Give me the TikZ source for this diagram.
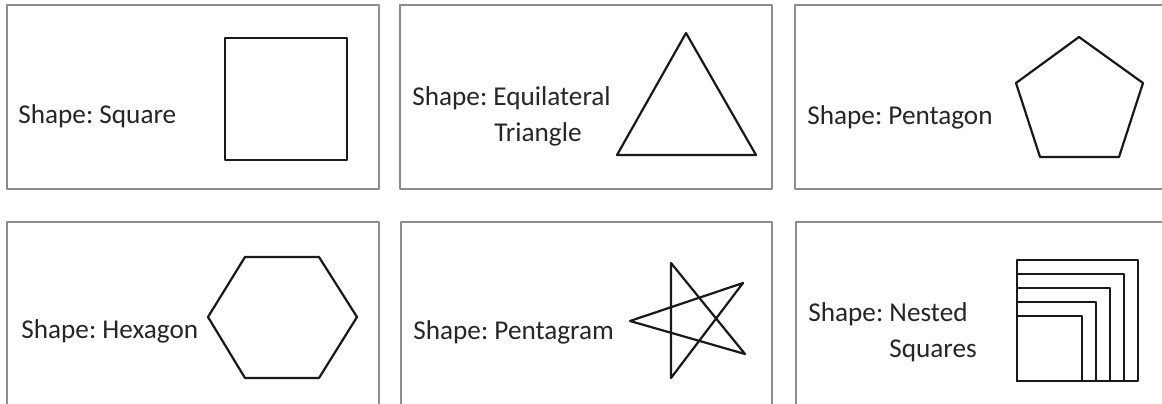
\documentclass[tikz,border=0pt]{standalone}
\usepackage{fontspec}
\setmainfont{Carlito}
\frenchspacing

\begin{document}
\begin{tikzpicture}[x=0.5pt, y=-0.5pt, line cap=round, line join=round,
  panel/.style={draw=black!45, line width=1pt},
  outline/.style={draw=black!90, line width=1.1pt},
  caption/.style={anchor=base west, inner sep=0pt, text=black!85, align=left,
    font=\fontsize{13.6}{18}\selectfont}]
  \clip (0,0) rectangle (1162,403);
  \fill[white] (0,0) rectangle (1162,403);
  \foreach \xa/\ya/\xb/\yb in {7/5/379/189, 400/5/772/189, 795/5/1175/189, 7/222/379/420, 401/222/772/420, 796/222/1175/420} {
    \draw[panel] (\xa,\ya) rectangle (\xb,\yb);
  }
  % top row
  \node[caption] (square) at (18,123) {Shape: Square};
  \draw[outline] (225,38) rectangle (347,160);
  \node[caption] (triangle) at (412,141) {Shape: Equilateral\\\hspace*{41pt}Triangle};
  \draw[outline] (686,33) -- (756,155) -- (617,155) -- cycle;
  \node[caption] (pentagon) at (807,124) {Shape: Pentagon};
  \draw[outline] (1079,37) -- (1143,83) -- (1119,157) -- (1040,157) -- (1016,83) -- cycle;
  % bottom row
  \node[caption] (hexagon) at (21,338) {Shape: Hexagon};
  \draw[outline] (245,257) -- (319,257) -- (357,317) -- (319,378) -- (245,378) -- (208,317) -- cycle;
  \node[caption] (pentagram) at (413,339) {Shape: Pentagram};
  \draw[outline] (671,263) -- (671,378) -- (743,283) -- (630,321) -- (745,354) -- cycle;
  \node[caption] (nested) at (808,357) {Shape: Nested\\\hspace*{40.5pt}Squares};
  \foreach \s in {121,107,93,79,65} {
    \draw[outline] (1017,381) rectangle ++(\s,-\s);      % shared corner
  }
\end{tikzpicture}
\end{document}
